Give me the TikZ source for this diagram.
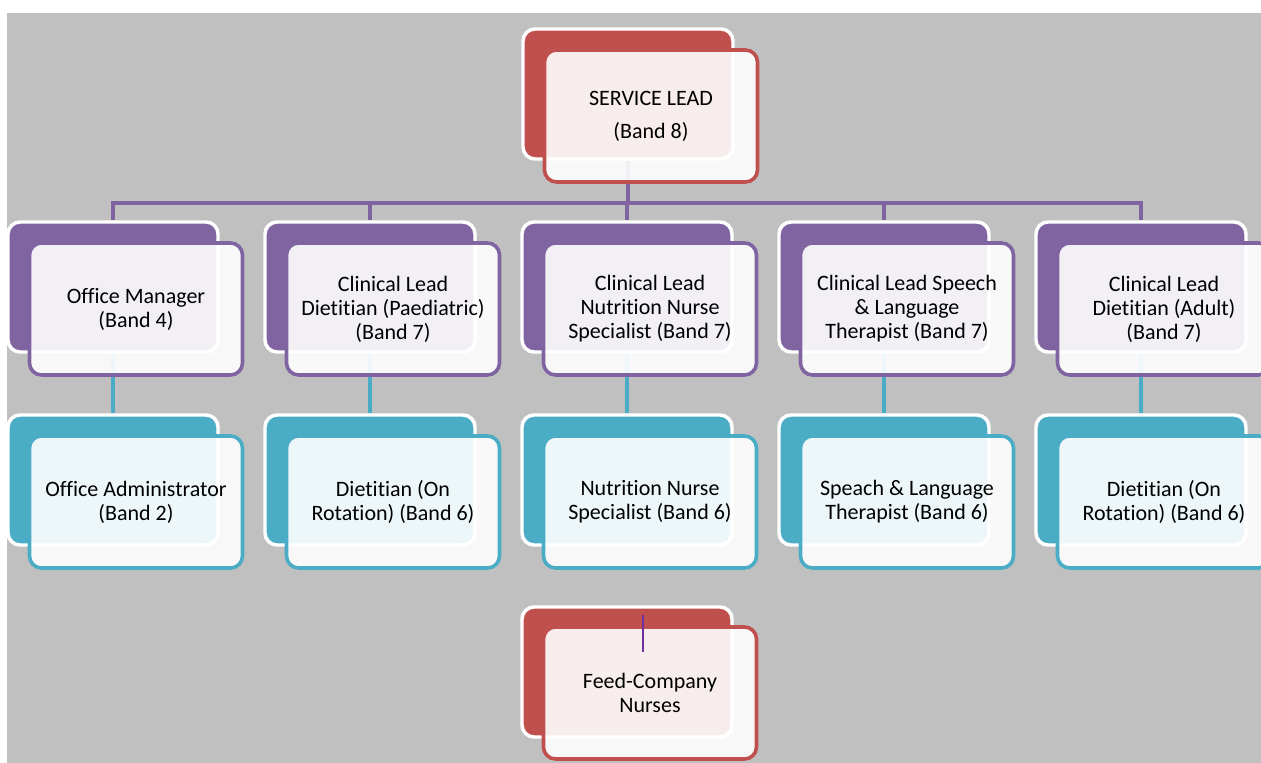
\documentclass[tikz,border=0pt]{standalone}
\usepackage{fontspec}
\setmainfont{Carlito}[Ligatures={NoCommon}]
\definecolor{bgGray}{HTML}{C0C0C0}
\definecolor{redC}{HTML}{C0504D}
\definecolor{purC}{HTML}{8064A2}
\definecolor{aquaC}{HTML}{4BACC6}
\definecolor{darkPur}{HTML}{7030A0}
\pgfdeclarelayer{bgfill}
\pgfdeclarelayer{links}
\pgfsetlayers{bgfill,links,main}
\begin{document}
\begin{tikzpicture}[x=0.75pt,y=-0.75pt,
  backbox/.style={rectangle, rounded corners=9pt, minimum width=157.5pt, minimum height=97.5pt,
    inner sep=0pt, draw=white, line width=2.6pt, fill=#1},
  frontbox/.style={rectangle, rounded corners=9pt, minimum width=159.75pt, minimum height=99pt,
    inner sep=0pt, draw=#1, line width=2.7pt, fill=white, fill opacity=0.9, text opacity=1,
    align=center, font=\fontsize{16.5}{18}\selectfont},
  link/.style={draw=#1, line width=3.6pt}]
\useasboundingbox (0,0) rectangle (1261,763);
\begin{pgfonlayer}{bgfill}
  \fill[white] (0,0) rectangle (1261,763);
  \fill[bgGray] (7,13) rectangle (1261,763);
\end{pgfonlayer}
\clip (0,0) rectangle (1261,763);

% service lead
\node[backbox=redC] (sb) at (628,94) {};
\node[frontbox=redC] (sf) at (651,116) {SERVICE LEAD\\[6.75pt](Band 8)};

% row 1
\node[backbox=purC] (b1) at (113,287) {};
\node[frontbox=purC] (f1) at (136,309) {Office Manager\\(Band 4)};
\node[backbox=purC] (b2) at (370,287) {};
\node[frontbox=purC] (f2) at (393,309) {Clinical Lead\\Dietitian (Paediatric)\\(Band 7)};
\node[backbox=purC] (b3) at (627,287) {};
\node[frontbox=purC] (f3) at (650,309) {Clinical Lead\\Nutrition Nurse\\Specialist (Band 7)};
\node[backbox=purC] (b4) at (884,287) {};
\node[frontbox=purC] (f4) at (907,309) {Clinical Lead Speech\\\& Language\\Therapist (Band 7)};
\node[backbox=purC] (b5) at (1141,287) {};
\node[frontbox=purC] (f5) at (1164,309) {Clinical Lead\\Dietitian (Adult)\\(Band 7)};

% row 2
\node[backbox=aquaC] (d1) at (113,480) {};
\node[frontbox=aquaC] (g1) at (136,502) {Office Administrator\\(Band 2)};
\node[backbox=aquaC] (d2) at (370,480) {};
\node[frontbox=aquaC] (g2) at (393,502) {Dietitian (On\\Rotation) (Band 6)};
\node[backbox=aquaC] (d3) at (627,480) {};
\node[frontbox=aquaC] (g3) at (650,502) {Nutrition Nurse\\Specialist (Band 6)};
\node[backbox=aquaC] (d4) at (884,480) {};
\node[frontbox=aquaC] (g4) at (907,502) {Speach \& Language\\Therapist (Band 6)};
\node[backbox=aquaC] (d5) at (1141,480) {};
\node[frontbox=aquaC] (g5) at (1164,502) {Dietitian (On\\Rotation) (Band 6)};

% feed company
\node[backbox=redC] (fb) at (627,672) {};
\node[frontbox=redC] (ff) at (650,693) {Feed-Company\\Nurses};

\coordinate (bar) at (0,203);
\begin{pgfonlayer}{links}
  \foreach \i in {1,...,5}{
    \draw[link=purC] (sb.south) -- (sb.south |- bar) -| (b\i.north);
    \draw[link=aquaC] (b\i.south) -- (d\i.north);
  }
\end{pgfonlayer}

\coordinate (tickTop) at (643,615);
\coordinate (tickBot) at (643,652);
\draw[darkPur, line width=1.6pt] (tickTop) -- (tickBot);
\end{tikzpicture}
\end{document}
